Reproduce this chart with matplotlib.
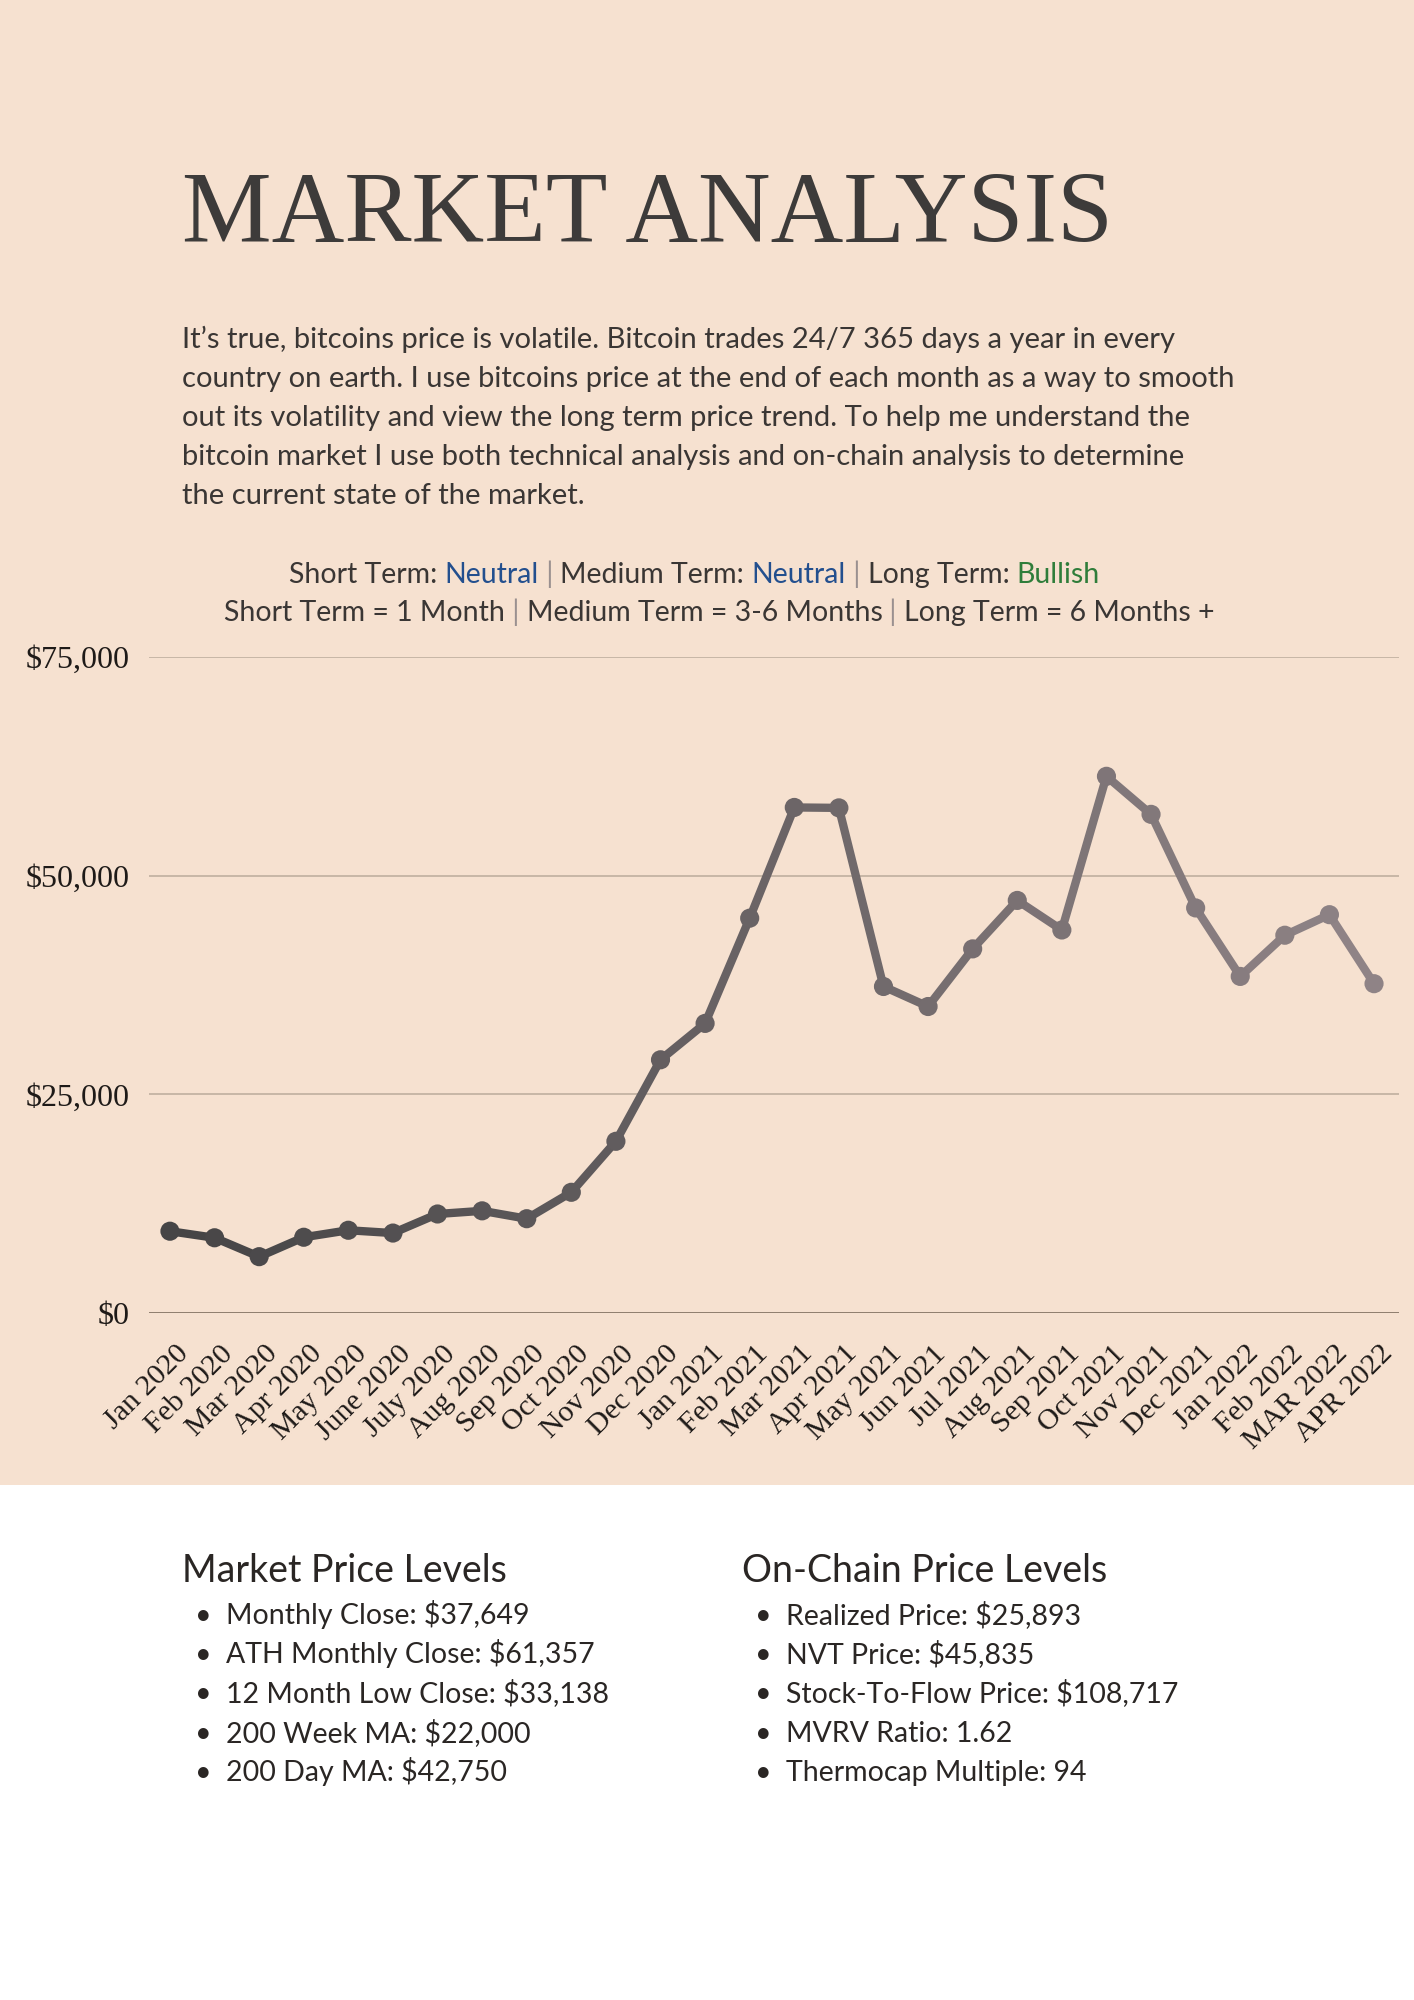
import matplotlib.pyplot as plt
import matplotlib.transforms as mtransforms
from matplotlib.collections import LineCollection
from matplotlib.colors import LinearSegmentedColormap
from matplotlib.patches import Rectangle
import numpy as np

months = ["Jan 2020", "Feb 2020", "Mar 2020", "Apr 2020", "May 2020", "June 2020",
          "July 2020", "Aug 2020", "Sep 2020", "Oct 2020", "Nov 2020", "Dec 2020",
          "Jan 2021", "Feb 2021", "Mar 2021", "Apr 2021", "May 2021", "Jun 2021",
          "Jul 2021", "Aug 2021", "Sep 2021", "Oct 2021", "Nov 2021", "Dec 2021",
          "Jan 2022", "Feb 2022", "MAR 2022", "APR 2022"]
closes = [9350, 8600, 6440, 8660, 9460, 9140, 11320, 11680, 10780, 13800, 19630, 28950,
          33110, 45140, 57800, 57750, 37330, 35040, 41630, 47170, 43790, 61360, 57010, 46310,
          38480, 43190, 45540, 37650]
yticks = [0, 25000, 50000, 75000]

title = "MARKET ANALYSIS"
paragraph = [
    "It\u2019s true, bitcoins price is volatile. Bitcoin trades 24/7 365 days a year in every",
    "country on earth. I use bitcoins price at the end of each month as a way to smooth",
    "out its volatility and view the long term price trend. To help me understand the",
    "bitcoin market I use both technical analysis and on-chain analysis to determine",
    "the current state of the market.",
]
outlook = [("Short Term: ", "dark"), ("Neutral", "blue"), (" | ", "sep"),
           ("Medium Term: ", "dark"), ("Neutral", "blue"), (" | ", "sep"),
           ("Long Term: ", "dark"), ("Bullish", "green")]
horizons = [("Short Term = 1 Month", "dark"), (" | ", "sep"),
            ("Medium Term = 3-6 Months", "dark"), (" | ", "sep"),
            ("Long Term = 6 Months +", "dark")]
market_levels = ["Monthly Close: $37,649", "ATH Monthly Close: $61,357",
                 "12 Month Low Close: $33,138", "200 Week MA: $22,000", "200 Day MA: $42,750"]
chain_levels = ["Realized Price: $25,893", "NVT Price: $45,835",
                "Stock-To-Flow Price: $108,717", "MVRV Ratio: 1.62", "Thermocap Multiple: 94"]

W, H = 1414, 2000
BG = "#f6e1d0"
DARK = "#3a3634"
COLORS = {"dark": DARK, "blue": "#234f8e", "green": "#2f7d3a", "sep": "#9a9090"}
BODY = "Lato"
SERIF = "Liberation Serif"
BODY_SIZE = 21
SUB_SIZE = 20.5

fig = plt.figure(figsize=(W / 100, H / 100), dpi=100)
fig.patch.set_facecolor("white")
fig.patches.append(Rectangle((0, 1 - 1485 / H), 1, 1485 / H, transform=fig.transFigure,
                             facecolor=BG, edgecolor="none", zorder=-10))


def fx(px):
    return px / W


def fy(py):
    return 1 - py / H


fig.text(fx(182), fy(242), title, fontsize=72.5, family=SERIF, color="#3d3b3a", va="baseline")

for i, line in enumerate(paragraph):
    fig.text(fx(182), fy(348 + 39 * i), line, fontsize=BODY_SIZE, family=BODY, color=DARK,
             va="baseline")

ax = fig.add_axes([fx(149), fy(1313), (1399 - 149) / W, (1313 - 657) / H])
ax.set_facecolor("none")


def chain(parts, x0, y0):
    # each piece starts where the previous one ends
    prev = fig.text(fx(x0), fy(y0), parts[0][0], fontsize=SUB_SIZE, family=BODY,
                    color=COLORS[parts[0][1]], va="baseline")
    for txt, c in parts[1:]:
        prev = ax.annotate(txt, xy=(1, 0), xycoords=prev, va="bottom", fontsize=SUB_SIZE,
                           family=BODY, color=COLORS[c], annotation_clip=False)


x = np.arange(len(closes))
y = np.array(closes)
cmap = LinearSegmentedColormap.from_list("fade", ["#464546", "#8f8386"])
seg = np.stack([np.column_stack([x[:-1], y[:-1]]), np.column_stack([x[1:], y[1:]])], axis=1)
lc = LineCollection(seg, colors=cmap(np.linspace(0, 1, len(seg))), linewidths=6,
                    capstyle="round", joinstyle="round", zorder=3)
ax.add_collection(lc)
ax.scatter(x, y, s=190, c=cmap(np.linspace(0, 1, len(x))), zorder=4, linewidths=0)

ax.set_xlim(-0.47, len(x) - 1 + 0.56)
ax.set_ylim(0, 75000)
ax.set_yticks(yticks)
ax.set_yticklabels([f"${v:,}" for v in yticks], family=SERIF, fontsize=23, color="#1e1a18")
ax.set_xticks(x)
ax.set_xticklabels(months, rotation=45, ha="right", rotation_mode="anchor",
                   family=SERIF, fontsize=21.5, color="#1e1a18")
ax.tick_params(axis="both", length=0)
ax.tick_params(axis="y", pad=14)
ax.tick_params(axis="x", pad=20)
offset = mtransforms.ScaledTranslation(0.05, 0, fig.dpi_scale_trans)
for lab in ax.get_xticklabels():
    lab.set_transform(lab.get_transform() + offset)
for s in ax.spines.values():
    s.set_visible(False)
for v in yticks[1:]:
    ax.axhline(v, color="#c4b3a3", lw=1.3, zorder=1)
ax.axhline(0, color="#857565", lw=2, zorder=2)

chain(outlook, 289, 583)
chain(horizons, 224, 621)

for col_x, head, items in [(182, "Market Price Levels", market_levels),
                           (742, "On-Chain Price Levels", chain_levels)]:
    fig.text(fx(col_x), fy(1582), head, fontsize=27, family=BODY, color="#2a2624", va="baseline")
    for i, item in enumerate(items):
        yy = fy(1624 + 39.2 * i)
        fig.text(fx(col_x + 13), yy, "\u2022", fontsize=20.5, family=BODY, color="#2a2624",
                 va="baseline")
        fig.text(fx(col_x + 44), yy, item, fontsize=20.5, family=BODY, color="#2a2624",
                 va="baseline")

fig.savefig("out.png", dpi=100, facecolor=fig.get_facecolor())
